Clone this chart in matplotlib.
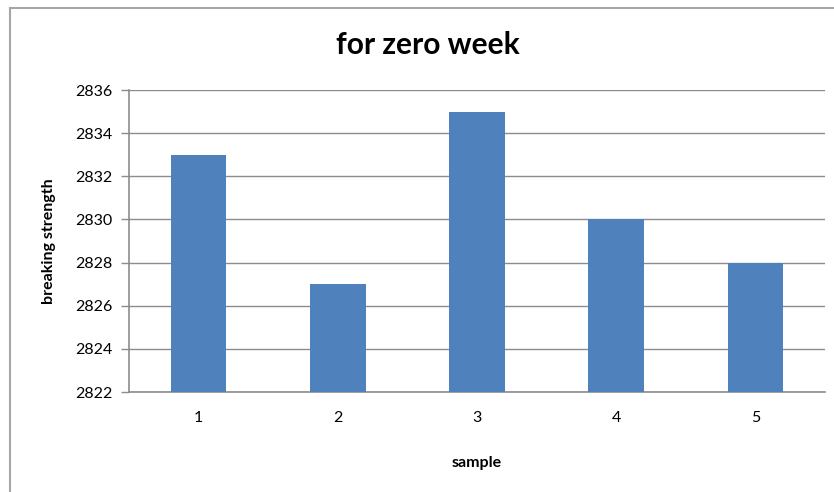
import matplotlib.pyplot as plt
from matplotlib.lines import Line2D

samples = ["1", "2", "3", "4", "5"]
strength = [2833, 2827, 2835, 2830, 2828]

plt.rcParams['font.family'] = ['Lato', 'DejaVu Sans']

fig = plt.figure(figsize=(8.34, 4.92), dpi=100)
W, H = 834, 492
ax = fig.add_axes([129 / W, 1 - 392 / H, (825 - 129) / W, (392 - 90) / H])

ax.bar(range(len(samples)), strength, width=0.4, color="#4F81BD", zorder=3)

ax.set_xlim(-0.5, len(samples) - 0.5)
ax.set_ylim(2822, 2836)
ax.set_yticks(range(2822, 2837, 2))
ax.set_xticks(range(len(samples)))
ax.set_xticklabels(samples)

ax.yaxis.grid(True, color="#8c8c8c", linewidth=1, zorder=0)
for s in ["top", "right"]:
    ax.spines[s].set_visible(False)
for s in ["left", "bottom"]:
    ax.spines[s].set_color("#8c8c8c")
    ax.spines[s].set_linewidth(1.2)
ax.tick_params(axis="y", length=6, width=1, color="#8c8c8c", labelsize=11.5, pad=6)
ax.tick_params(axis="x", length=0, labelsize=11.5, pad=14)

ax.set_ylabel("breaking strength", fontweight="bold", fontsize=11.5, labelpad=14)
ax.set_xlabel("sample", fontweight="bold", fontsize=11.5, labelpad=22)
fig.text(428 / W, 1 - 45 / H, "for zero week", ha="center", va="center",
         fontsize=21.5, fontweight="bold")

# chart area border (left and top edges visible)
fig.add_artist(Line2D([10 / W, 10 / W], [0, 1 - 8 / H], transform=fig.transFigure,
                      color="#a6a6a6", linewidth=1.5))
fig.add_artist(Line2D([10 / W, 1], [1 - 8 / H, 1 - 8 / H], transform=fig.transFigure,
                      color="#a6a6a6", linewidth=1.5))

plt.savefig("out.png", dpi=100)
